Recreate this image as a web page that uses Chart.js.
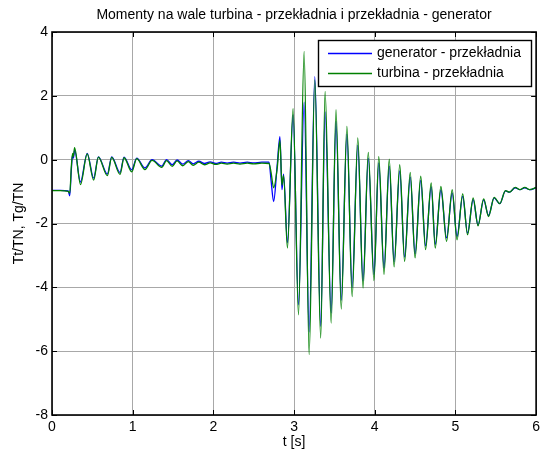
<!DOCTYPE html>
<html><head><meta charset="utf-8">
<script src="https://cdn.jsdelivr.net/npm/chart.js@4/dist/chart.umd.min.js"></script>
<style>html,body{margin:0;padding:0;background:#fff}#wrap{width:544px;height:455px}</style>
</head><body><div id="wrap"><canvas id="c" width="544" height="455"></canvas></div>
<script>
const titleText = 'Momenty na wale turbina - przekładnia i przekładnia - generator';
const xLabel = 't [s]';
const yLabel = 'Tt/TN, Tg/TN';
const seriesNames = ['generator - przekładnia', 'turbina - przekładnia'];
const xTicks = [0, 1, 2, 3, 4, 5, 6];
const yTicks = [-8, -6, -4, -2, 0, 2, 4];

const time = [0, 0.1, 0.2, 0.22, 0.24, 0.255, 0.265, 0.28, 0.353, 0.436, 0.516, 0.575, 0.686, 0.74, 0.843, 0.893, 0.988, 1.05, 1.152, 1.24, 1.36, 1.42, 1.49, 1.55, 1.62, 1.69, 1.75, 1.82, 1.89, 1.96, 2.03, 2.1, 2.17, 2.25, 2.33, 2.42, 2.5, 2.6, 2.69,
  2.715, 2.747, 2.79, 2.825, 2.85, 2.87, 2.918, 2.988, 3.055, 3.125, 3.187, 3.257, 3.33, 3.385, 3.46, 3.52, 3.585, 3.655, 3.72, 3.79, 3.855, 3.92, 3.99, 4.05, 4.115, 4.18, 4.24, 4.31, 4.37, 4.44, 4.5, 4.57, 4.63, 4.7, 4.75, 4.82, 4.89, 4.96, 5.02, 5.09, 5.15, 5.22, 5.28, 5.35, 5.41, 5.48, 5.55, 5.62, 5.67, 5.74, 5.8, 5.86, 5.92, 6.0];
const gen = [-0.96, -0.96, -0.98, -1.13, -0.3, 0.15, 0.05, 0.3, -0.7, 0.2, -0.58, 0.09, -0.45, 0.09, -0.4, 0.08, -0.32, 0.05, -0.26, 0.0, -0.2, 0.0, -0.16, -0.01, -0.14, -0.03, -0.13, -0.05, -0.12, -0.07, -0.12, -0.08, -0.11, -0.08, -0.11, -0.08, -0.1, -0.08, -0.08,
  -0.65, -1.31, -0.2, 0.72, -0.94, -0.45, -2.6, 1.4, -4.55, 1.8, -5.4, 2.6, -5.22, 1.5, -4.8, 1.2, -4.4, 0.8, -4.0, 0.45, -3.8, 0.05, -3.6, -0.1, -3.4, -0.2, -3.2, -0.35, -3.05, -0.55, -2.95, -0.65, -2.7, -0.85, -2.65, -0.95, -2.45, -1.05, -2.4, -1.15, -2.3, -1.25, -2.05, -1.26, -1.75, -1.2, -1.38, -0.98, -1.02, -0.88, -0.94, -0.88, -0.94, -0.88];
const turb = [-0.97, -0.97, -0.99, -1.05, -0.2, 0.2, 0.1, 0.38, -0.78, 0.18, -0.64, 0.08, -0.5, 0.07, -0.46, 0.06, -0.38, 0.03, -0.31, -0.02, -0.24, -0.03, -0.21, -0.04, -0.19, -0.06, -0.18, -0.08, -0.16, -0.1, -0.15, -0.11, -0.14, -0.11, -0.14, -0.11, -0.13, -0.11, -0.12,
  -0.4, -0.88, -0.3, 0.6, -0.8, -0.5, -2.77, 1.6, -4.86, 3.39, -6.11, 2.5, -5.59, 2.14, -5.12, 1.57, -4.68, 1.04, -4.29, 0.68, -4.02, 0.23, -3.79, 0.1, -3.6, 0.02, -3.36, -0.16, -3.19, -0.4, -3.08, -0.52, -2.82, -0.73, -2.77, -0.84, -2.56, -0.94, -2.51, -1.07, -2.35, -1.2, -2.07, -1.23, -1.78, -1.18, -1.38, -0.97, -1.02, -0.87, -0.94, -0.87, -0.94, -0.87];

const FONT = "'Liberation Sans', Arial, sans-serif";
Chart.defaults.font.family = FONT;
Chart.defaults.color = '#000';

const colors = ['#0000ff', '#008000'];

const matlabAxes = {
  id: 'matlabAxes',
  afterDatasetsDraw(chart) {
    const {ctx, chartArea: a, scales: {x, y}} = chart;
    ctx.save();
    ctx.strokeStyle = '#000';
    ctx.lineWidth = 1;
    ctx.beginPath();
    xTicks.forEach(v => {
      const px = Math.round(x.getPixelForValue(v)) + 0.5;
      ctx.moveTo(px, a.bottom); ctx.lineTo(px, a.bottom - 5);
      ctx.moveTo(px, a.top); ctx.lineTo(px, a.top + 5);
    });
    yTicks.forEach(v => {
      const py = Math.round(y.getPixelForValue(v)) + 0.5;
      ctx.moveTo(a.left, py); ctx.lineTo(a.left + 5, py);
      ctx.moveTo(a.right, py); ctx.lineTo(a.right - 5, py);
    });
    ctx.stroke();
    ctx.lineWidth = 1.6;
    ctx.strokeRect(a.left, a.top, a.right - a.left, a.bottom - a.top);
    // title, centred over the axes
    ctx.fillStyle = '#000';
    ctx.font = '14px ' + FONT;
    ctx.textAlign = 'center';
    ctx.textBaseline = 'middle';
    ctx.fillText(titleText, (a.left + a.right) / 2, 15);
    // legend
    const lx = 318.5, ly = 40.5, lw = 213, lh = 46;
    ctx.fillStyle = '#fff';
    ctx.fillRect(lx, ly, lw, lh);
    ctx.strokeStyle = '#000';
    ctx.lineWidth = 1.4;
    ctx.strokeRect(lx, ly, lw, lh);
    ctx.textAlign = 'left';
    chart.data.datasets.forEach((ds, i) => {
      const yy = 53.5 + i * 20;
      ctx.strokeStyle = colors[i];
      ctx.lineWidth = 1.3;
      ctx.beginPath(); ctx.moveTo(328, yy); ctx.lineTo(372, yy); ctx.stroke();
      ctx.fillStyle = '#000';
      ctx.fillText(ds.label, 377, yy);
    });
    ctx.restore();
  }
};

new Chart(document.getElementById('c'), {
  type: 'line',
  data: {
    datasets: [
      { label: seriesNames[0], data: time.map((t, i) => ({x: t, y: gen[i]})), borderColor: colors[0], borderWidth: 1.3, pointRadius: 0, cubicInterpolationMode: 'monotone', order: 1 },
      { label: seriesNames[1], data: time.map((t, i) => ({x: t, y: turb[i]})), borderColor: colors[1], borderWidth: 1.3, pointRadius: 0, cubicInterpolationMode: 'monotone', order: 0 }
    ]
  },
  options: {
    responsive: false,
    animation: false,
    events: [],
    layout: { padding: { left: 0, right: 6, top: 32, bottom: 0 } },
    plugins: {
      legend: { display: false },
      tooltip: { enabled: false },
      title: { display: false }
    },
    scales: {
      x: {
        type: 'linear', min: 0, max: 6,
        afterBuildTicks: s => { s.ticks = xTicks.map(v => ({value: v})); },
        afterFit: s => { s.height = 40; },
        ticks: { font: { size: 14 }, padding: 4, maxRotation: 0 },
        grid: { color: '#a8a8a8', lineWidth: 1, drawTicks: false },
        border: { display: false },
        title: { display: true, text: xLabel, font: { size: 14 }, padding: { top: 0, bottom: 4 } }
      },
      y: {
        type: 'linear', min: -8, max: 4,
        afterBuildTicks: s => { s.ticks = yTicks.map(v => ({value: v})); },
        afterFit: s => { s.width = 52; },
        ticks: { font: { size: 14 }, padding: 4 },
        grid: { color: '#a8a8a8', lineWidth: 1, drawTicks: false },
        border: { display: false },
        title: { display: true, text: yLabel, font: { size: 14 }, padding: { top: 11, bottom: 0 } }
      }
    }
  },
  plugins: [matlabAxes]
});
</script>
</body></html>
